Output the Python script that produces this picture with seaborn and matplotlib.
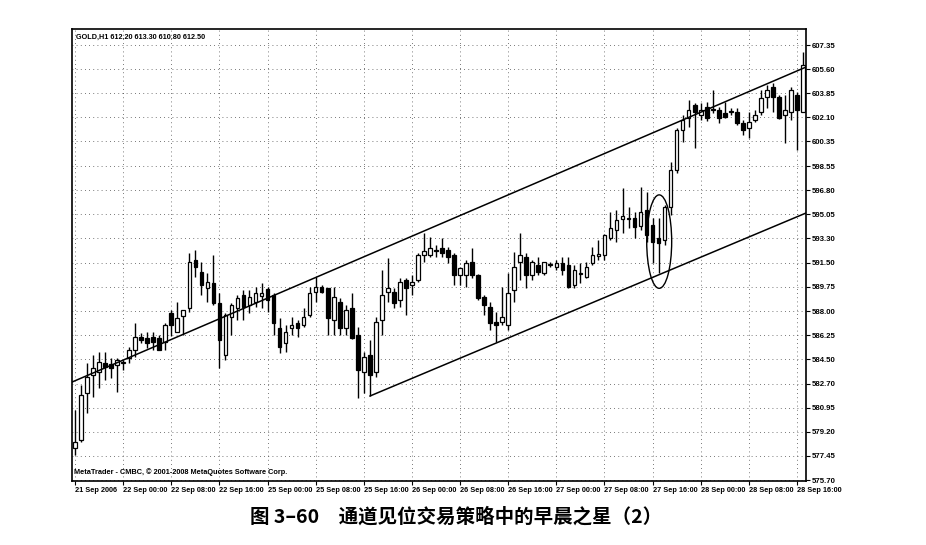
import matplotlib
matplotlib.use("Agg")
import matplotlib.pyplot as plt
from matplotlib.patches import Ellipse
import seaborn as sns
import numpy as np
import pandas as pd

#-------------------------------------------------------------------------------------------------------------
# Data (GOLD H1)
#-------------------------------------------------------------------------------------------------------------

OPEN = [578.02, 578.60, 582.02, 583.33, 583.55, 584.20, 584.13, 584.06, 584.20, 584.57,
        585.15, 586.10, 586.02, 586.10, 586.02, 585.73, 587.84, 586.46, 587.62, 588.21,
        591.70, 590.83, 589.66, 590.03, 588.57, 584.79, 587.55, 588.21, 589.15, 588.43,
        588.64, 589.08, 589.59, 589.15, 586.75, 585.66, 586.75, 587.12, 586.97, 587.70,
        589.37, 589.74, 589.66, 587.34, 588.64, 586.75, 588.21, 586.24, 583.55, 584.79,
        583.55, 587.34, 589.37, 589.37, 588.79, 590.25, 589.88, 590.25, 592.07, 592.07,
        592.43, 592.58, 592.43, 592.07, 590.61, 590.61, 591.56, 590.61, 589.01, 588.28,
        587.19, 587.19, 586.97, 589.52, 591.56, 591.92, 590.61, 591.34, 590.76, 591.34,
        591.19, 591.48, 591.34, 589.88, 590.68, 590.46, 591.48, 592.00, 592.07, 593.30,
        593.89, 594.69, 594.76, 594.76, 594.18, 595.34, 594.25, 593.30, 593.16, 595.56,
        598.25, 601.17, 602.04, 602.99, 602.26, 602.84, 602.62, 602.62, 602.40, 602.48,
        602.48, 601.68, 601.31, 601.89, 602.48, 603.57, 604.30, 603.57, 602.26, 602.48,
        603.71, 602.48]
HIGH = [580.78, 582.60, 584.20, 584.79, 585.00, 585.00, 584.57, 584.57, 584.42, 585.37,
        587.12, 586.39, 586.46, 586.46, 586.24, 587.12, 588.06, 588.64, 588.06, 592.21,
        592.43, 591.56, 590.76, 592.07, 589.30, 587.84, 588.57, 589.15, 589.52, 589.52,
        589.74, 590.03, 589.74, 589.30, 587.48, 586.97, 587.55, 587.34, 588.21, 589.74,
        590.46, 589.88, 589.70, 589.74, 588.94, 588.43, 589.30, 586.83, 585.00, 585.88,
        587.55, 590.97, 591.85, 589.66, 590.39, 590.39, 590.61, 592.21, 593.67, 593.38,
        592.79, 593.30, 592.65, 592.21, 591.19, 591.70, 592.58, 590.68, 589.15, 588.64,
        587.92, 589.74, 590.76, 592.28, 593.67, 592.21, 591.70, 591.92, 591.60, 591.56,
        591.70, 591.92, 591.92, 591.34, 591.48, 591.56, 592.65, 593.16, 593.58, 595.19,
        595.34, 596.94, 595.56, 595.19, 597.02, 596.65, 594.76, 594.76, 595.70, 598.84,
        601.31, 602.26, 603.35, 603.13, 603.13, 603.20, 604.08, 602.84, 603.20, 602.77,
        602.77, 601.89, 602.48, 602.62, 604.08, 604.44, 604.59, 603.71, 603.71, 604.30,
        603.93, 606.84]
LOW = [577.51, 578.45, 580.56, 581.73, 582.38, 582.97, 583.11, 582.09, 583.69, 584.20,
       584.64, 585.66, 585.30, 585.15, 585.15, 585.15, 586.17, 586.46, 586.24, 587.92,
       590.46, 589.15, 588.64, 588.43, 583.84, 584.42, 586.24, 587.34, 587.34, 587.84,
       588.28, 588.21, 587.92, 586.24, 584.93, 585.00, 586.24, 586.10, 586.83, 587.55,
       588.64, 589.30, 586.24, 586.24, 586.24, 586.24, 585.95, 581.66, 582.02, 581.80,
       583.18, 586.24, 588.64, 588.21, 588.28, 587.70, 589.15, 590.10, 591.56, 591.92,
       591.92, 591.92, 591.48, 589.88, 589.88, 589.74, 590.39, 588.79, 587.70, 586.61,
       585.73, 586.97, 586.61, 588.64, 590.25, 589.66, 590.25, 590.61, 590.61, 591.19,
       590.97, 590.61, 589.66, 589.66, 590.03, 590.39, 591.34, 591.70, 591.70, 593.16,
       593.01, 593.67, 594.03, 593.30, 593.89, 593.01, 591.48, 590.76, 592.79, 594.98,
       598.03, 600.29, 601.38, 599.85, 601.89, 601.82, 602.40, 601.68, 602.04, 602.26,
       601.53, 600.80, 600.58, 601.75, 602.26, 602.77, 602.48, 601.98, 600.22, 601.89,
       599.71, 602.48]
CLOSE = [578.45, 581.87, 583.18, 583.84, 584.28, 583.91, 583.84, 584.42, 584.28, 585.15,
         586.10, 585.88, 585.66, 585.73, 585.15, 586.97, 586.97, 587.48, 588.06, 591.56,
         591.19, 589.88, 590.10, 588.57, 585.88, 587.70, 588.43, 588.94, 588.28, 589.01,
         589.30, 589.30, 588.79, 587.12, 585.37, 586.46, 586.97, 586.75, 587.55, 589.30,
         589.74, 589.37, 587.48, 589.01, 586.75, 588.06, 586.02, 583.69, 584.64, 583.33,
         587.19, 589.15, 589.66, 588.57, 590.10, 589.66, 590.10, 592.07, 592.36, 592.58,
         592.36, 592.21, 591.92, 590.61, 591.12, 591.48, 590.61, 588.94, 588.43, 587.12,
         586.97, 587.55, 589.30, 591.19, 592.07, 590.61, 591.56, 590.83, 591.56, 591.41,
         591.48, 590.97, 589.74, 590.97, 590.76, 591.19, 592.07, 592.14, 593.52, 594.03,
         594.61, 594.91, 594.69, 594.10, 595.19, 593.52, 593.01, 592.94, 595.56, 598.25,
         601.17, 601.89, 602.62, 602.48, 602.62, 602.04, 602.69, 602.04, 602.11, 602.55,
         601.68, 601.17, 601.75, 602.26, 603.50, 604.08, 603.57, 602.04, 602.62, 604.08,
         602.62, 605.90]

PRICE_LABELS = ['575.70', '577.45', '579.20', '580.95', '582.70', '584.50', '586.25', '588.00',
                '589.75', '591.50', '593.30', '595.05', '596.80', '598.55', '600.35', '602.10',
                '603.85', '605.60', '607.35']
TIME_LABELS = ['21 Sep 2006', '22 Sep 00:00', '22 Sep 08:00', '22 Sep 16:00', '25 Sep 00:00',
               '25 Sep 08:00', '25 Sep 16:00', '26 Sep 00:00', '26 Sep 08:00', '26 Sep 16:00',
               '27 Sep 00:00', '27 Sep 08:00', '27 Sep 16:00', '28 Sep 00:00', '28 Sep 08:00',
               '28 Sep 16:00']
TIME_LABEL_BARS = [0, 8, 16, 24, 32, 40, 48, 56, 64, 72, 80, 88, 96, 104, 112, 120]

# channel lines drawn on the chart (bar index, price)
UPPER_BARS = [-0.5, 121.5]
UPPER_PRICES = [582.83, 605.75]
LOWER_BARS = [49, 121.5]
LOWER_PRICES = [581.81, 595.13]

# morning star marked with an ellipse
STAR_BAR = 97.1
STAR_PRICE = 593.05

HEADER = 'GOLD,H1 612.20 613.30 610.80 612.50'
FOOTER = 'MetaTrader - CMBC, © 2001-2008 MetaQuotes Software Corp.'
CAPTION = '图 3–60\u3000通道见位交易策略中的早晨之星（2）'

SMALL_FONT = ['Liberation Sans', 'DejaVu Sans']

#-------------------------------------------------------------------------------------------------------------
# Plot
#-------------------------------------------------------------------------------------------------------------

sns.set_theme(style='white')
plt.rcParams['font.family'] = ['DejaVu Sans', 'Noto Sans CJK SC']

df = pd.DataFrame({'open': OPEN, 'high': HIGH, 'low': LOW, 'close': CLOSE})
df['bar'] = np.arange(len(df))
up = df[df['close'] >= df['open']]
down = df[df['close'] < df['open']]

fig = plt.figure(figsize=(9.26, 5.45), dpi=100)
ax = fig.add_axes([72 / 926, 1 - 481 / 545, 734 / 926, 452 / 545])

# wicks, then bodies on top
ax.vlines(df['bar'], df['low'], df['high'], color='black', linewidth=1.0, zorder=2)
ax.bar(up['bar'], (up['close'] - up['open']).clip(lower=0.06), bottom=up['open'], width=0.6,
       color='white', edgecolor='black', linewidth=0.9, zorder=3)
ax.bar(down['bar'], (down['open'] - down['close']).clip(lower=0.06), bottom=down['close'], width=0.6,
       color='black', edgecolor='black', linewidth=0.9, zorder=3)

sns.lineplot(x=UPPER_BARS, y=UPPER_PRICES, color='black', linewidth=1.1, ax=ax, zorder=4)
sns.lineplot(x=LOWER_BARS, y=LOWER_PRICES, color='black', linewidth=1.1, ax=ax, zorder=4)
ax.add_patch(Ellipse((STAR_BAR, STAR_PRICE), 4.15, 6.8, fill=False, edgecolor='black',
                     linewidth=1.0, zorder=5))

ax.set_xlim(-0.5, 121.5)
ax.set_ylim(575.63, 608.52)

price_ticks = [float(p) for p in PRICE_LABELS]
ax.yaxis.tick_right()
ax.set_yticks(price_ticks)
ax.set_yticklabels(PRICE_LABELS)
ax.set_xticks(TIME_LABEL_BARS)
ax.set_xticklabels(TIME_LABELS, ha='left')
ax.tick_params(axis='y', which='both', right=True, left=False, length=3, width=0.8, pad=1.5,
               labelsize=5.6, colors='black', direction='out')
ax.tick_params(axis='x', which='both', bottom=True, length=3, width=0.8, pad=1.5,
               labelsize=5.3, colors='black', direction='out')
for lab in ax.get_xticklabels() + ax.get_yticklabels():
    lab.set_fontweight('bold')
    lab.set_family(SMALL_FONT)

ax.grid(True, color='black', linestyle=(0, (1, 4)), linewidth=0.6, alpha=0.7)
ax.set_axisbelow(True)
for spine in ax.spines.values():
    spine.set_visible(True)
    spine.set_color('black')
    spine.set_linewidth(1.2)

ax.text(0.005, 0.99, HEADER, transform=ax.transAxes, ha='left', va='top', fontsize=5.2,
        fontweight='bold', family=SMALL_FONT, color='black')
ax.text(0.003, 0.01, FOOTER, transform=ax.transAxes, ha='left', va='bottom', fontsize=5.3,
        fontweight='bold', family=SMALL_FONT, color='black')

fig.text(0.492, 0.051, CAPTION, ha='center', va='center', fontsize=14, fontweight='bold',
         family=['Noto Sans CJK SC', 'DejaVu Sans'], color='black')

fig.savefig('out.png', dpi=100, facecolor='white')
